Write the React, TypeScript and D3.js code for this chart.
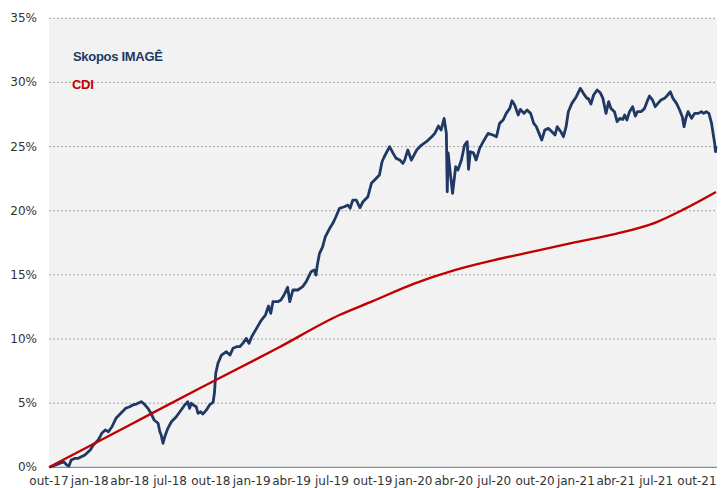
import React from 'react';
import * as d3 from 'd3';

const yTicks = [0, 5, 10, 15, 20, 25, 30, 35];
const xTickDates = ['2017-10-01','2018-01-01','2018-04-01','2018-07-01','2018-10-01','2019-01-01','2019-04-01','2019-07-01','2019-10-01','2020-01-01','2020-04-01','2020-07-01','2020-10-01','2021-01-01','2021-04-01','2021-07-01','2021-10-01'];
const xTickLabels = ['out-17','jan-18','abr-18','jul-18','out-18','jan-19','abr-19','jul-19','out-19','jan-20','abr-20','jul-20','out-20','jan-21','abr-21','jul-21','out-21'];
const seriesNames = ['Skopos IMAGÊ', 'CDI'];

const imageSeries: [string, number][] = [
['2017-10-02',0.0],['2017-10-22',0.26],['2017-11-03',0.44],['2017-11-10',0.18],['2017-11-15',0.10],['2017-11-20',0.57],['2017-11-29',0.70],['2017-12-06',0.70],['2017-12-21',0.96],
['2018-01-02',1.35],['2018-01-09',1.74],['2018-01-20',2.13],['2018-01-28',2.65],['2018-02-05',2.91],['2018-02-12',2.77],['2018-02-20',3.16],['2018-03-01',3.82],['2018-03-12',4.21],['2018-03-23',4.60],
['2018-04-01',4.72],['2018-04-08',4.86],['2018-04-16',4.93],['2018-04-27',5.11],['2018-05-04',4.93],['2018-05-12',4.60],['2018-05-19',4.21],['2018-05-26',3.69],['2018-06-04',3.43],['2018-06-08',2.77],
['2018-06-11',2.52],['2018-06-15',1.87],['2018-06-19',2.38],['2018-06-26',3.04],['2018-07-04',3.55],['2018-07-15',3.94],['2018-07-26',4.47],['2018-08-03',4.86],['2018-08-10',5.11],['2018-08-14',4.60],
['2018-08-18',4.99],['2018-08-22',4.86],['2018-08-29',4.72],['2018-09-02',4.21],['2018-09-08',4.33],['2018-09-13',4.15],['2018-09-21',4.47],['2018-09-28',4.86],['2018-10-06',5.07],['2018-10-09',5.77],
['2018-10-12',7.33],['2018-10-17',8.11],['2018-10-25',8.75],['2018-11-05',9.01],['2018-11-13',8.75],['2018-11-20',9.28],['2018-11-28',9.40],['2018-12-05',9.40],['2018-12-12',9.66],['2018-12-20',10.05],
['2018-12-26',9.66],['2019-01-01',10.18],['2019-01-12',10.83],['2019-01-23',11.48],['2019-02-01',11.87],['2019-02-08',12.57],['2019-02-13',12.00],['2019-02-18',12.91],['2019-03-01',12.91],['2019-03-08',13.04],
['2019-03-15',13.43],['2019-03-23',14.03],['2019-03-28',12.91],['2019-04-04',13.82],['2019-04-15',13.82],['2019-04-26',14.08],['2019-05-04',14.47],['2019-05-15',15.25],['2019-05-22',15.38],['2019-05-26',14.99],
['2019-05-29',15.77],['2019-06-03',16.68],['2019-06-10',17.19],['2019-06-16',17.97],['2019-06-25',18.57],['2019-07-03',19.02],['2019-07-10',19.53],['2019-07-18',20.19],['2019-07-29',20.31],['2019-08-06',20.44],
['2019-08-11',20.19],['2019-08-17',20.83],['2019-08-25',20.83],['2019-09-02',20.23],['2019-09-09',20.70],['2019-09-20',21.09],['2019-09-28',22.14],['2019-10-09',22.53],['2019-10-16',22.78],['2019-10-22',23.82],
['2019-10-27',24.21],['2019-11-08',24.99],['2019-11-16',24.47],['2019-11-23',24.08],['2019-12-01',23.95],['2019-12-08',23.69],['2019-12-12',23.95],['2019-12-19',24.73],['2019-12-27',23.95],['2020-01-08',24.73],
['2020-01-19',25.12],['2020-01-30',25.38],['2020-02-11',25.77],['2020-02-18',26.03],['2020-02-26',26.60],['2020-03-03',26.29],['2020-03-10',27.20],['2020-03-15',26.03],['2020-03-17',21.48],['2020-03-19',24.50],
['2020-03-23',23.20],['2020-03-29',21.36],['2020-04-05',23.43],['2020-04-10',23.17],['2020-04-18',23.95],['2020-04-25',25.12],['2020-05-01',25.38],['2020-05-04',23.23],['2020-05-08',24.60],['2020-05-15',24.52],
['2020-05-21',23.95],['2020-05-29',24.86],['2020-06-06',25.38],['2020-06-17',26.03],['2020-06-28',25.90],['2020-07-06',25.77],['2020-07-13',26.81],['2020-07-21',27.07],['2020-07-28',27.59],['2020-08-05',27.98],
['2020-08-10',28.57],['2020-08-16',28.24],['2020-08-24',27.46],['2020-08-29',27.90],['2020-09-06',27.59],['2020-09-13',27.85],['2020-09-21',27.59],['2020-09-28',26.81],['2020-10-04',26.55],['2020-10-10',26.03],
['2020-10-16',25.51],['2020-10-23',26.29],['2020-10-31',26.42],['2020-11-08',26.16],['2020-11-15',25.90],['2020-11-20',26.55],['2020-11-28',26.16],['2020-12-04',25.77],['2020-12-10',26.55],['2020-12-15',27.72],
['2020-12-23',28.37],['2021-01-02',28.89],['2021-01-11',29.54],['2021-01-18',29.15],['2021-01-26',28.76],['2021-01-29',28.76],['2021-02-04',28.32],['2021-02-10',29.02],['2021-02-18',29.41],['2021-02-25',29.20],
['2021-03-03',28.76],['2021-03-10',27.59],['2021-03-16',28.50],['2021-03-21',27.98],['2021-03-29',27.72],['2021-04-04',26.94],['2021-04-10',27.20],['2021-04-17',27.12],['2021-04-21',27.46],['2021-04-26',27.07],
['2021-05-02',27.72],['2021-05-09',28.11],['2021-05-15',27.38],['2021-05-20',27.72],['2021-05-28',27.72],['2021-06-05',27.98],['2021-06-12',28.63],['2021-06-16',28.94],['2021-06-23',28.63],['2021-06-29',28.11],
['2021-07-05',28.37],['2021-07-12',28.63],['2021-07-20',28.76],['2021-07-27',29.02],['2021-08-02',29.27],['2021-08-08',28.76],['2021-08-16',28.37],['2021-08-23',27.85],['2021-08-29',27.33],['2021-09-02',26.55],
['2021-09-06',27.20],['2021-09-11',27.72],['2021-09-19',27.20],['2021-09-26',27.59],['2021-10-04',27.59],['2021-10-11',27.72],['2021-10-16',27.59],['2021-10-22',27.72],['2021-10-28',27.59],['2021-11-03',26.81],
['2021-11-07',25.90],['2021-11-10',25.25],['2021-11-12',24.60],['2021-11-13',25.04]
];

const cdiSeries: [string, number][] = [
['2017-10-01',0.0],['2018-04-01',3.3],['2018-09-06',6.16],['2019-03-01',9.3],['2019-07-18',11.87],['2019-10-01',12.95],
['2020-01-01',14.3],['2020-04-01',15.35],['2020-07-01',16.15],['2020-10-01',16.85],['2021-01-01',17.55],
['2021-04-01',18.2],['2021-07-01',19.1],['2021-09-01',20.1],['2021-11-13',21.46]
];

const parse = d3.timeParse('%Y-%m-%d');

export default function App() {
  const W = 723, H = 488;
  const x = d3.scaleTime().domain([parse('2017-10-01')!, parse('2021-11-13')!]).range([49, 716]);
  const y = d3.scaleLinear().domain([0, 35]).range([467.3, 18.3]);
  const line = d3.line<[string, number]>().x(d => x(parse(d[0])!)).y(d => y(d[1]));
  const smooth = d3.line<[string, number]>().x(d => x(parse(d[0])!)).y(d => y(d[1])).curve(d3.curveMonotoneX);
  const font = 'DejaVu Sans, Verdana, sans-serif';
  return (
    <svg width={W} height={H} style={{ position: 'absolute', left: 0, top: 0, background: '#fff' }}>
      <rect x={49} y={y(35)} width={717 - 49} height={y(0) - y(35)} fill="#f2f2f2" />
      {yTicks.filter(t => t > 0).map(t => (
        <line key={t} x1={49} x2={717} y1={y(t)} y2={y(t)} stroke="#a6a6a6" strokeWidth={1} strokeDasharray="2,2" />
      ))}
      <line x1={49} x2={717} y1={y(0)} y2={y(0)} stroke="#8c8c8c" strokeWidth={1.3} />
      {yTicks.map(t => (
        <text key={t} x={37} y={y(t)} textAnchor="end" dominantBaseline="central" fontFamily={font} fontSize={12} fill="#333">{t}%</text>
      ))}
      {xTickDates.map((d, i) => (
        <text key={d} x={x(parse(d)!)} y={485} textAnchor="middle" fontFamily={font} fontSize={12} fill="#333">{xTickLabels[i]}</text>
      ))}
      <path d={line(imageSeries)!} fill="none" stroke="#1f3864" strokeWidth={2.8} strokeLinejoin="round" />
      <path d={smooth(cdiSeries)!} fill="none" stroke="#c00000" strokeWidth={2.4} strokeLinejoin="round" />
      <text x={73} y={60.5} fontFamily="Liberation Sans, Arial, sans-serif" fontWeight="bold" fontSize={13} letterSpacing={-0.3} fill="#1f3864">{seriesNames[0]}</text>
      <text x={72} y={88.5} fontFamily="Liberation Sans, Arial, sans-serif" fontWeight="bold" fontSize={13} letterSpacing={-0.3} fill="#c00000">{seriesNames[1]}</text>
    </svg>
  );
}
